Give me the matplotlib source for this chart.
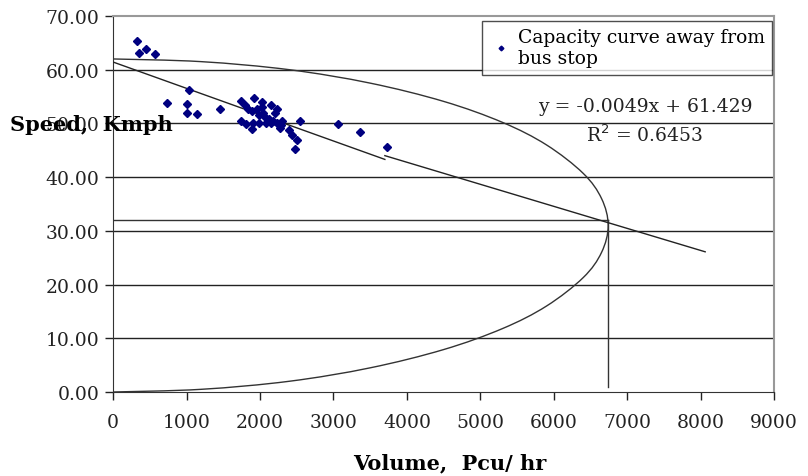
import numpy as np
import matplotlib.pyplot as plt
from matplotlib.path import Path
from matplotlib.patches import PathPatch

# observed volume (pcu/hr) and speed (kmph)
volume = [322, 358, 444, 571, 1038, 735, 1003, 1003, 1139, 1456,
          1748, 1796, 1923, 1841, 1887, 2023, 2023, 2045, 2150, 2227,
          2204, 2068, 2127, 2181, 1741, 1810, 1887, 1901, 1990, 2082,
          2150, 2227, 2282, 2295, 2272, 2399, 2431, 2499, 2476, 2544,
          1955, 1990, 3061, 3368, 3724]
speed = [65.4, 63.1, 63.9, 62.9, 56.3, 53.8, 53.6, 52.0, 51.7, 52.6,
         54.2, 53.4, 54.8, 52.6, 52.3, 54.0, 53.1, 52.0, 53.5, 52.6,
         52.0, 51.2, 50.8, 50.4, 50.5, 49.9, 48.9, 50.1, 50.0, 50.1,
         50.0, 50.1, 49.7, 50.4, 49.2, 48.7, 47.9, 46.9, 45.2, 50.4,
         52.6, 51.5, 49.8, 48.4, 45.7]

# linear trend  y = -0.0049x + 61.429
slope, intercept = -0.0049, 61.429
trend_x = [0, 3700]
# hand-drawn continuation of the trend through the capacity point
ext_x = [3700, 8060]
ext_v = [44.0, 26.1]

# speed-flow capacity curve (upper branch, nose, lower branch)
curve_q = [0, 1200, 2400, 3500, 4500, 5300, 5900, 6400, 6650, 6740,
           6650, 6400, 5900, 5300, 4500, 3500, 2400, 1200, 0]
curve_v = [62.0, 61.5, 60.0, 57.5, 54.1, 50.2, 46.0, 40.7, 36.0, 31.0,
           26.0, 21.3, 16.0, 11.8, 7.9, 4.5, 2.0, 0.5, 0.0]

cap_volume = 6740
cap_speed = 32
cap_floor = 1.0

xticks = np.arange(0, 9001, 1000)
yticks = np.arange(0, 71, 10)


def smooth_path(xs, ys):
    # Catmull-Rom through the points, written as cubic Bezier segments
    pts = np.column_stack([xs, ys]).astype(float)
    verts = [pts[0]]
    codes = [Path.MOVETO]
    n = len(pts)
    for i in range(n - 1):
        p0 = pts[max(i - 1, 0)]
        p1 = pts[i]
        p2 = pts[i + 1]
        p3 = pts[min(i + 2, n - 1)]
        c1 = p1 + (p2 - p0) / 6.0
        c2 = p2 - (p3 - p1) / 6.0
        verts += [c1, c2, p2]
        codes += [Path.CURVE4] * 3
    return Path(verts, codes)


plt.rcParams['font.family'] = 'DejaVu Serif'
fs = 13.5

fig = plt.figure(figsize=(8.08, 4.77), dpi=100)
ax = fig.add_axes([0.1399, 0.1761, 0.8183, 0.7883])

ax.set_xlim(0, 9000)
ax.set_ylim(0, 70)

for y in yticks[1:-1]:
    ax.axhline(y, color='#222222', lw=1.0, zorder=1)

ax.add_patch(PathPatch(smooth_path(curve_q, curve_v), fill=False,
                       edgecolor='#333333', lw=1.0, zorder=2))

ax.plot([0, cap_volume], [cap_speed, cap_speed], color='#333333', lw=1.0, zorder=2)
ax.plot([cap_volume, cap_volume], [cap_floor, cap_speed], color='#333333', lw=1.0, zorder=2)

tx = np.array(trend_x)
ax.plot(tx, slope * tx + intercept, color='#222222', lw=1.0, zorder=3)
ax.plot(ext_x, ext_v, color='#222222', lw=1.0, zorder=3)

ax.plot(volume, speed, linestyle='none', marker='D', markersize=4,
        color='#000080', zorder=4, label='Capacity curve away from\nbus stop')

ax.set_xticks(xticks)
ax.set_yticks(yticks)
ax.set_yticklabels(['%.2f' % v for v in yticks])
ax.tick_params(axis='both', labelsize=fs, colors='#222222', length=6, width=1)
ax.tick_params(axis='x', pad=9)
ax.tick_params(axis='y', pad=4)

for side in ['left', 'bottom']:
    ax.spines[side].set_color('#333333')
for side in ['top', 'right']:
    ax.spines[side].set_color('#999999')
    ax.spines[side].set_linewidth(1.5)

leg = ax.legend(loc='upper right', bbox_to_anchor=(0.956, 0.954),
                bbox_transform=fig.transFigure, borderaxespad=0, fontsize=fs,
                frameon=True, fancybox=False, handlelength=1.2,
                handletextpad=0.3, borderpad=0.4, labelspacing=0.1,
                markerscale=0.6)
leg.get_frame().set_edgecolor('#222222')
leg.get_frame().set_linewidth(1.0)

fig.text(0.798, 0.776, 'y = -0.0049x + 61.429', fontsize=fs, ha='center',
         va='center', color='#222222')
fig.text(0.798, 0.717, r'R$^2$ = 0.6453', fontsize=fs, ha='center',
         va='center', color='#222222')

fig.text(0.557, 0.029, 'Volume,  Pcu/ hr', fontsize=15, fontweight='bold',
         ha='center', va='center')
fig.text(0.012, 0.738, 'Speed,  Kmph', fontsize=15, fontweight='bold',
         ha='left', va='center')

fig.savefig('out.png', dpi=100)
